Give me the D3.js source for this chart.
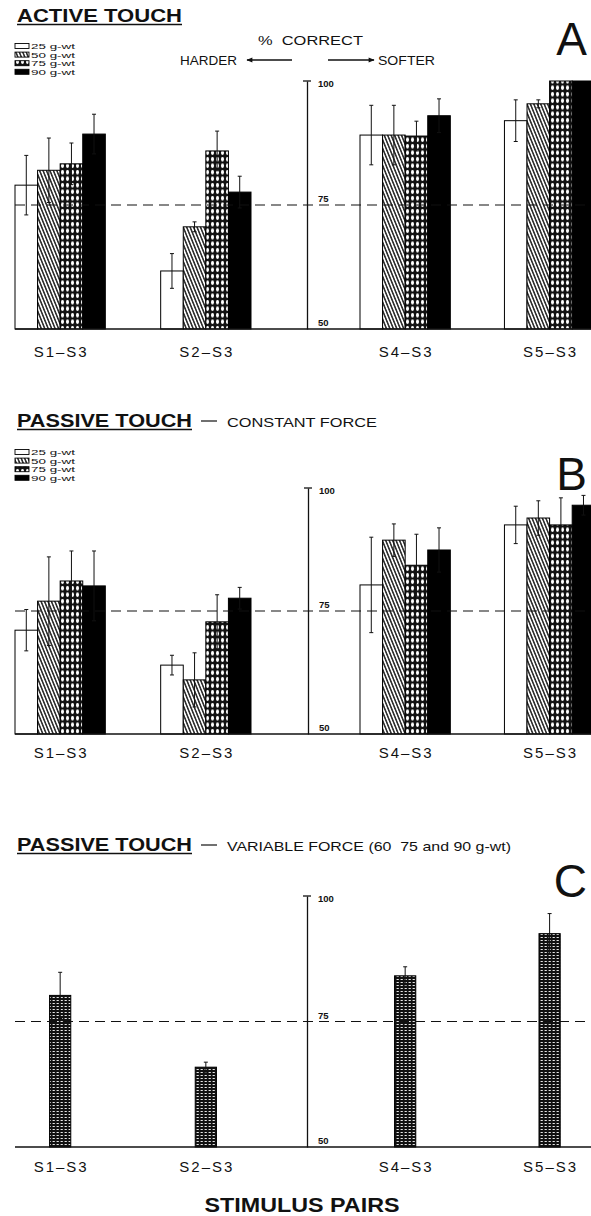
<!DOCTYPE html>
<html><head><meta charset="utf-8">
<script src="https://cdn.jsdelivr.net/npm/d3@7"></script>
<style>
body{margin:0;background:#fff}
svg{display:block}
text{font-family:"Liberation Sans",Arial,sans-serif;fill:#111;white-space:pre}
</style>
</head><body>
<svg id="c" width="591" height="1216"></svg>
<script>
// ---------------- DATA ----------------
const harderPairs = ["S1-S3", "S2-S3"];
const softerPairs = ["S4-S3", "S5-S3"];
const pairs = harderPairs.concat(softerPairs);
const forces = ["25 g-wt", "50 g-wt", "75 g-wt", "90 g-wt"];
const tickValues = [50, 75, 100];
const chanceLevel = 75;

// A: active touch  (rows = pairs, columns = forces)
const activeMeans = [
  [79.0, 82.0, 83.3, 89.3],
  [61.7, 70.6, 85.9, 77.6],
  [89.1, 89.1, 88.9, 93.0],
  [92.0, 95.4, 100, 100]
];
const activeErrs = [
  [6.0, 6.5, 4.2, 4.0],
  [3.5, 1.0, 4.0, 3.2],
  [6.0, 6.0, 3.0, 3.4],
  [4.2, 0.8, 0, 0]
];
// B: passive touch, constant force
const constMeans = [
  [71.1, 77.0, 81.1, 80.1],
  [64.0, 61.0, 72.8, 77.6],
  [80.3, 89.4, 84.3, 87.4],
  [92.5, 93.9, 92.5, 96.5]
];
const constErrs = [
  [4.2, 9.0, 6.1, 7.1],
  [2.0, 5.5, 5.5, 2.2],
  [9.7, 3.3, 6.3, 4.5],
  [3.8, 3.5, 5.5, 2.0]
];
// C: passive touch, variable force
const variableMeans = [80.2, 65.9, 84.1, 92.5];
const variableErrs = [4.6, 1.0, 1.8, 4.0];

// ---------------- SETUP ----------------
const svg = d3.select("#c");
const defs = svg.append("defs");

const p50 = defs.append("pattern").attr("id", "p50").attr("patternUnits", "userSpaceOnUse")
  .attr("width", 3.2).attr("height", 10).attr("patternTransform", "rotate(-22)");
p50.append("rect").attr("width", 3.2).attr("height", 10).attr("fill", "#fff");
p50.append("line").attr("x1", 1.6).attr("x2", 1.6).attr("y1", 0).attr("y2", 10)
  .attr("stroke", "#000").attr("stroke-width", 1.3);

const p75 = defs.append("pattern").attr("id", "p75").attr("patternUnits", "userSpaceOnUse")
  .attr("width", 5).attr("height", 6.5);
p75.append("rect").attr("width", 5).attr("height", 6.5).attr("fill", "#111");
p75.append("ellipse").attr("cx", 2.5).attr("cy", 3.25).attr("rx", 1.55).attr("ry", 2.3).attr("fill", "#fff");

const pC = defs.append("pattern").attr("id", "pC").attr("patternUnits", "userSpaceOnUse")
  .attr("width", 4).attr("height", 3);
pC.append("rect").attr("width", 4).attr("height", 3).attr("fill", "#111");
pC.append("rect").attr("x", 0.6).attr("y", 1).attr("width", 2.2).attr("height", 0.9).attr("fill", "#fff");

defs.append("marker").attr("id", "arr").attr("viewBox", "0 0 10 10")
  .attr("refX", 9).attr("refY", 5).attr("markerUnits", "userSpaceOnUse")
  .attr("markerWidth", 12).attr("markerHeight", 6).attr("orient", "auto")
  .append("path").attr("d", "M0,1L10,5L0,9Z").attr("fill", "#111");

const fills = {"25 g-wt": "#fff", "50 g-wt": "url(#p50)", "75 g-wt": "url(#p75)", "90 g-wt": "#000"};

// x layout: two halves split by the % correct axis
const xHarder = d3.scaleBand().domain(harderPairs).range([15, 251]).paddingInner(0.38).paddingOuter(0);
const xSofter = d3.scaleBand().domain(softerPairs).range([360, 594]).paddingInner(0.38).paddingOuter(0);
const xGroup = p => harderPairs.includes(p) ? xHarder(p) : xSofter(p);
const groupW = xHarder.bandwidth();
const xForce = d3.scaleBand().domain(forces).range([0, groupW]);

function legend(y0) {
  const g = svg.append("g");
  forces.forEach((f, i) => {
    const cy = y0 + i * 8.6;
    g.append("rect").attr("x", 15).attr("y", cy - 2.5).attr("width", 14).attr("height", 5)
      .attr("fill", fills[f]).attr("stroke", "#000").attr("stroke-width", 0.9);
    g.append("text").attr("x", 31).attr("y", cy + 3).attr("font-size", 7.4)
      .attr("textLength", 44).attr("lengthAdjust", "spacingAndGlyphs").text(f);
  });
}

function title(y, sub, subLen) {
  svg.append("text").attr("x", 17).attr("y", y).attr("font-size", 19).attr("font-weight", "bold")
    .attr("textLength", sub === null ? 165 : 175).attr("lengthAdjust", "spacingAndGlyphs")
    .text(sub === null ? "ACTIVE TOUCH" : "PASSIVE TOUCH");
  svg.append("line").attr("x1", 17).attr("x2", sub === null ? 182 : 192)
    .attr("y1", y + 2.5).attr("y2", y + 2.5).attr("stroke", "#111").attr("stroke-width", 1.6);
  if (sub !== null) {
    svg.append("line").attr("x1", 201).attr("x2", 217).attr("y1", y - 6).attr("y2", y - 6)
      .attr("stroke", "#111").attr("stroke-width", 1.2);
    svg.append("text").attr("x", 227).attr("y", y).attr("font-size", 13)
      .attr("textLength", subLen).attr("lengthAdjust", "spacingAndGlyphs").text(sub);
  }
}

function panel(cfg) {
  const y = d3.scaleLinear().domain([50, 100]).range([cfg.bottom, cfg.top]);
  const g = svg.append("g");

  // bars
  let bars = [];
  if (cfg.single) {
    pairs.forEach((p, i) => {
      const w = xForce.bandwidth() * 0.94;
      const cx = xGroup(p) + groupW / 2;
      bars.push({x: cx - w / 2, w: w, v: cfg.means[i], e: cfg.errs[i], fill: "url(#pC)"});
    });
  } else {
    pairs.forEach((p, i) => forces.forEach((f, j) => {
      bars.push({x: xGroup(p) + xForce(f), w: xForce.bandwidth(), v: cfg.means[i][j], e: cfg.errs[i][j], fill: fills[f]});
    }));
  }
  g.selectAll("rect.bar").data(bars).join("rect").attr("class", "bar")
    .attr("x", d => d.x).attr("width", d => d.w)
    .attr("y", d => y(d.v)).attr("height", d => y(50) - y(d.v))
    .attr("fill", d => d.fill).attr("stroke", "#000").attr("stroke-width", 1);

  // chance line & baseline
  g.append("line").attr("x1", 15).attr("x2", 591).attr("y1", y(chanceLevel)).attr("y2", y(chanceLevel))
    .attr("stroke", "#111").attr("stroke-width", 1.2).attr("stroke-dasharray", "10,6");
  g.append("line").attr("x1", 15).attr("x2", 591).attr("y1", y(50)).attr("y2", y(50))
    .attr("stroke", "#111").attr("stroke-width", 1.3);

  // error bars
  const eb = bars.filter(d => d.e > 0);
  g.selectAll("line.err").data(eb).join("line").attr("class", "err")
    .attr("x1", d => d.x + d.w / 2).attr("x2", d => d.x + d.w / 2)
    .attr("y1", d => y(d.v + d.e)).attr("y2", d => y(d.v - d.e))
    .attr("stroke", "#111").attr("stroke-width", 1);
  g.selectAll("line.capT").data(eb).join("line").attr("class", "capT")
    .attr("x1", d => d.x + d.w / 2 - 2).attr("x2", d => d.x + d.w / 2 + 2)
    .attr("y1", d => y(d.v + d.e)).attr("y2", d => y(d.v + d.e))
    .attr("stroke", "#111").attr("stroke-width", 1);
  g.selectAll("line.capB").data(eb).join("line").attr("class", "capB")
    .attr("x1", d => d.x + d.w / 2 - 2).attr("x2", d => d.x + d.w / 2 + 2)
    .attr("y1", d => y(d.v - d.e)).attr("y2", d => y(d.v - d.e))
    .attr("stroke", "#111").attr("stroke-width", 1);

  // axis
  const ax = g.append("g").attr("transform", `translate(${cfg.axisX},0)`)
    .call(d3.axisRight(y).tickValues(tickValues).tickSize(0).tickSizeOuter(0).tickFormat(d3.format("d")));
  ax.select(".domain").attr("stroke", "#111").attr("stroke-width", 1.3);
  ax.selectAll("text").attr("x", 11).attr("dy", d => d === 100 ? "0.55em" : "-0.35em")
    .attr("font-size", 9.5).attr("font-weight", "bold").attr("fill", "#111")
    .attr("font-family", '"Liberation Sans",Arial,sans-serif');
  ax.append("line").attr("x1", -4).attr("x2", 4).attr("y1", y(100)).attr("y2", y(100))
    .attr("stroke", "#111").attr("stroke-width", 1.3);

  // category labels
  g.selectAll("text.cat").data(pairs).join("text").attr("class", "cat")
    .attr("x", p => xGroup(p) + groupW / 2 + 1).attr("y", cfg.labelY)
    .attr("text-anchor", "middle").attr("font-size", 15).attr("letter-spacing", 2)
    .text(p => p.replace("-", "\u2013"));

  // panel letter
  svg.append("text").attr("x", 587).attr("y", cfg.letterY).attr("text-anchor", "end")
    .attr("font-size", 46).text(cfg.letter);
}

// ---------------- PANEL A ----------------
title(22, null);
legend(46);
svg.append("text").attr("x", 258).attr("y", 45).attr("font-size", 13.5)
  .attr("textLength", 105).attr("lengthAdjust", "spacingAndGlyphs").text("%  CORRECT");
svg.append("text").attr("x", 180).attr("y", 65).attr("font-size", 13)
  .attr("textLength", 57).attr("lengthAdjust", "spacingAndGlyphs").text("HARDER");
svg.append("line").attr("x1", 292).attr("x2", 247).attr("y1", 60).attr("y2", 60)
  .attr("stroke", "#111").attr("stroke-width", 1.4).attr("marker-end", "url(#arr)");
svg.append("line").attr("x1", 328).attr("x2", 374).attr("y1", 60).attr("y2", 60)
  .attr("stroke", "#111").attr("stroke-width", 1.4).attr("marker-end", "url(#arr)");
svg.append("text").attr("x", 378).attr("y", 65).attr("font-size", 13)
  .attr("textLength", 57).attr("lengthAdjust", "spacingAndGlyphs").text("SOFTER");
panel({means: activeMeans, errs: activeErrs, top: 81, bottom: 329, axisX: 307, labelY: 357, letter: "A", letterY: 55});

// ---------------- PANEL B ----------------
title(427, "CONSTANT FORCE", 150);
legend(452);
panel({means: constMeans, errs: constErrs, top: 488, bottom: 734, axisX: 308, labelY: 758, letter: "B", letterY: 490});

// ---------------- PANEL C ----------------
title(851, "VARIABLE FORCE (60  75 and 90 g-wt)", 284);
panel({single: true, means: variableMeans, errs: variableErrs, top: 896, bottom: 1147, axisX: 307, labelY: 1172, letter: "C", letterY: 897});

svg.append("text").attr("x", 302).attr("y", 1212).attr("text-anchor", "middle")
  .attr("font-size", 20).attr("font-weight", "bold")
  .attr("textLength", 195).attr("lengthAdjust", "spacingAndGlyphs").text("STIMULUS PAIRS");
</script>
</body></html>
